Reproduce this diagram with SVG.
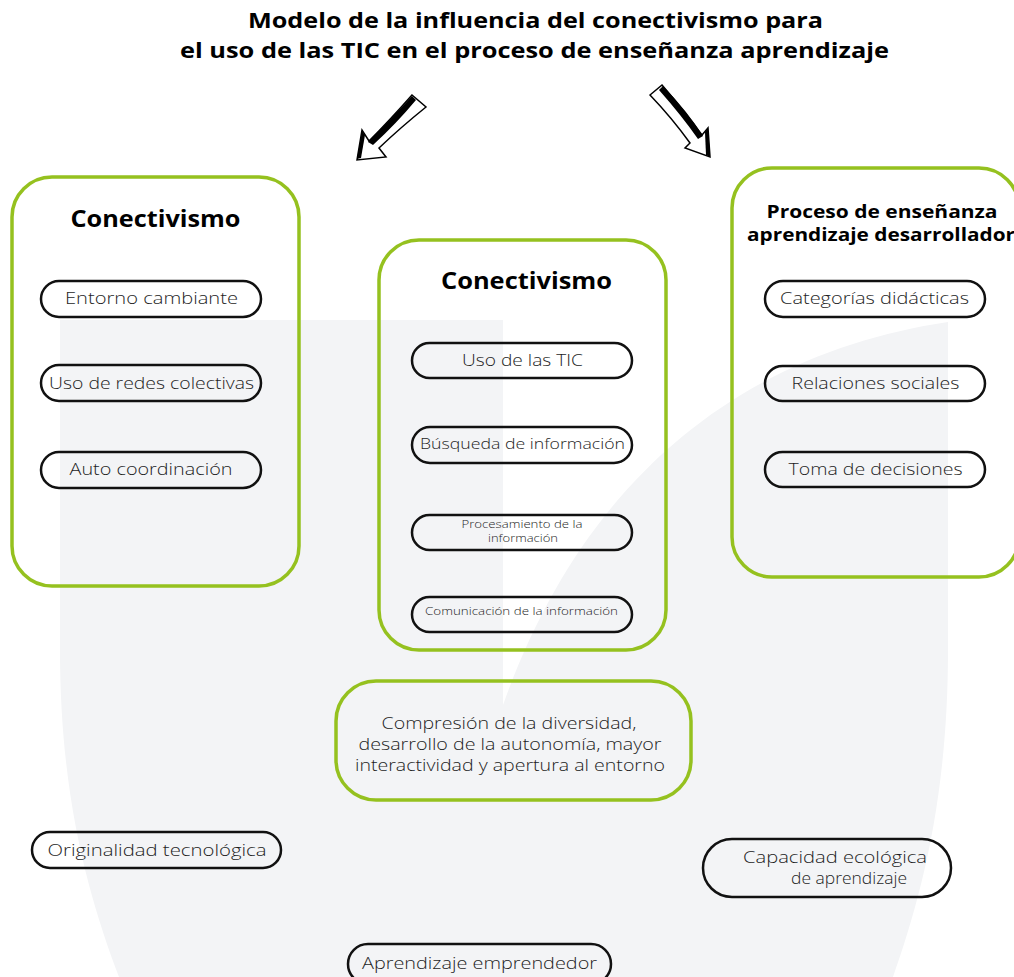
<svg xmlns="http://www.w3.org/2000/svg" width="1014" height="977" viewBox="0 0 1014 977">
<style>
.bg{fill:#f3f4f6;stroke:none}
.gbox{fill:none;stroke:#95c11f;stroke-width:3.5}
.pill{fill:none;stroke:#111;stroke-width:2.5}
.t{font-family:"Open Sans","Noto Sans","Liberation Sans",sans-serif;font-weight:300;fill:#1e1e1e;text-anchor:middle}
.h{font-family:"Open Sans","Noto Sans","Liberation Sans",sans-serif;font-weight:700;fill:#000;text-anchor:middle}
.arrow{fill:#fff;stroke:#000;stroke-width:1.5;stroke-linejoin:miter}
</style>
<rect width="1014" height="977" fill="#fff"/>
<g id="background">
<path class="bg" d="M60,320 L503,320 L503,705 C590,460 760,350 948,322 L948,650 C948,800 920,900 893,977 L119,977 C90,900 60,800 60,650 Z"/>
</g>
<g id="title">
<text class="h" x="535.5" y="28" font-size="22" textLength="575" lengthAdjust="spacingAndGlyphs">Modelo de la influencia del conectivismo para</text>
<text class="h" x="534.5" y="58" font-size="22" textLength="709" lengthAdjust="spacingAndGlyphs">el uso de las TIC en el proceso de enseñanza aprendizaje</text>
</g>
<g id="connectors">
<path class="arrow" d="M412,95 L426,107 Q400,128 379,148 L386,157 L357,160 L362,130 L369,141 Q390,120 412,95 Z"/>
<path d="M412,96 Q392,118 368,142 L373,145 Q396,124 416,100 Z" fill="#000"/>
<path d="M362,131 L357,159 L361,158 L365,135 Z" fill="#000"/>
<path class="arrow" d="M650,95 L662,85 Q685,112 702,135 L708,128 L710,157 L685,148 L690,143 Q672,118 650,95 Z"/>
<path d="M663,86 Q688,112 703,136 L698,139 Q682,116 659,90 Z" fill="#000"/>
<path d="M708,128 L710,157 L706,155 L705,132 Z" fill="#000"/>
</g>
<g id="box-left">
<rect class="gbox" x="12" y="177" width="287" height="409" rx="40"/>
<text class="h" x="155.5" y="227" font-size="23" textLength="170" lengthAdjust="spacingAndGlyphs">Conectivismo</text>
</g>
<g id="pill-entorno">
<rect class="pill" x="41" y="281" width="220" height="36" rx="18"/>
<text class="t" x="151.5" y="303.5" font-size="17" textLength="173" lengthAdjust="spacingAndGlyphs">Entorno cambiante</text>
</g>
<g id="pill-redes">
<rect class="pill" x="41" y="365" width="220" height="36" rx="18"/>
<text class="t" x="151.5" y="389" font-size="17" textLength="205" lengthAdjust="spacingAndGlyphs">Uso de redes colectivas</text>
</g>
<g id="pill-auto">
<rect class="pill" x="41" y="452" width="220" height="36" rx="18"/>
<text class="t" x="151" y="475" font-size="17" textLength="163" lengthAdjust="spacingAndGlyphs">Auto coordinación</text>
</g>
<g id="box-middle">
<rect class="gbox" x="379" y="240" width="287" height="410" rx="40"/>
<text class="h" x="526.5" y="289" font-size="23" textLength="171" lengthAdjust="spacingAndGlyphs">Conectivismo</text>
</g>
<g id="pill-tic">
<rect class="pill" x="412" y="343" width="220" height="35" rx="17.5"/>
<text class="t" x="522.5" y="365.5" font-size="17" textLength="121" lengthAdjust="spacingAndGlyphs">Uso de las TIC</text>
</g>
<g id="pill-busqueda">
<rect class="pill" x="412" y="427" width="220" height="36" rx="18"/>
<text class="t" x="522.5" y="449" font-size="15" textLength="205" lengthAdjust="spacingAndGlyphs">Búsqueda de información</text>
</g>
<g id="pill-procesamiento">
<rect class="pill" x="412" y="515" width="220" height="35" rx="17.5"/>
<text class="t" x="522" y="528" font-size="11.5" textLength="121" lengthAdjust="spacingAndGlyphs">Procesamiento de la</text>
<text class="t" x="523" y="542" font-size="11.5" textLength="70" lengthAdjust="spacingAndGlyphs">información</text>
</g>
<g id="pill-comunicacion">
<rect class="pill" x="412" y="597" width="220" height="35" rx="17.5"/>
<text class="t" x="521.5" y="615" font-size="11.5" textLength="193" lengthAdjust="spacingAndGlyphs">Comunicación de la información</text>
</g>
<g id="box-right">
<rect class="gbox" x="732" y="168" width="287" height="409" rx="40"/>
<text class="h" x="882" y="218" font-size="18" textLength="231" lengthAdjust="spacingAndGlyphs">Proceso de enseñanza</text>
<text class="h" x="881" y="241" font-size="18" textLength="268" lengthAdjust="spacingAndGlyphs">aprendizaje desarrollador</text>
</g>
<g id="pill-categorias">
<rect class="pill" x="765" y="281" width="220" height="36" rx="18"/>
<text class="t" x="874.5" y="304" font-size="17" textLength="189" lengthAdjust="spacingAndGlyphs">Categorías didácticas</text>
</g>
<g id="pill-relaciones">
<rect class="pill" x="765" y="366" width="220" height="35" rx="17.5"/>
<text class="t" x="875.5" y="389" font-size="17" textLength="168" lengthAdjust="spacingAndGlyphs">Relaciones sociales</text>
</g>
<g id="pill-toma">
<rect class="pill" x="765" y="452" width="220" height="35" rx="17.5"/>
<text class="t" x="875.5" y="475" font-size="17" textLength="174" lengthAdjust="spacingAndGlyphs">Toma de decisiones</text>
</g>
<g id="box-compresion">
<rect class="gbox" x="336" y="681" width="355" height="119" rx="40"/>
<text class="t" x="509" y="729" font-size="17" textLength="255" lengthAdjust="spacingAndGlyphs">Compresión de la diversidad,</text>
<text class="t" x="510" y="750" font-size="17" textLength="303" lengthAdjust="spacingAndGlyphs">desarrollo de la autonomía, mayor</text>
<text class="t" x="510" y="771" font-size="17" textLength="310" lengthAdjust="spacingAndGlyphs">interactividad y apertura al entorno</text>
</g>
<g id="pill-originalidad">
<rect class="pill" x="32" y="832" width="249" height="36" rx="18"/>
<text class="t" x="157" y="856" font-size="17" textLength="219" lengthAdjust="spacingAndGlyphs">Originalidad tecnológica</text>
</g>
<g id="pill-capacidad">
<rect class="pill" x="703" y="839" width="248" height="58" rx="29"/>
<text class="t" x="835" y="863" font-size="17" textLength="184" lengthAdjust="spacingAndGlyphs">Capacidad ecológica</text>
<text class="t" x="849" y="884" font-size="17" textLength="116" lengthAdjust="spacingAndGlyphs">de aprendizaje</text>
</g>
<g id="pill-emprendedor">
<rect class="pill" x="348" y="944" width="263" height="40" rx="20"/>
<text class="t" x="479.5" y="969" font-size="17" textLength="235" lengthAdjust="spacingAndGlyphs">Aprendizaje emprendedor</text>
</g>
</svg>
